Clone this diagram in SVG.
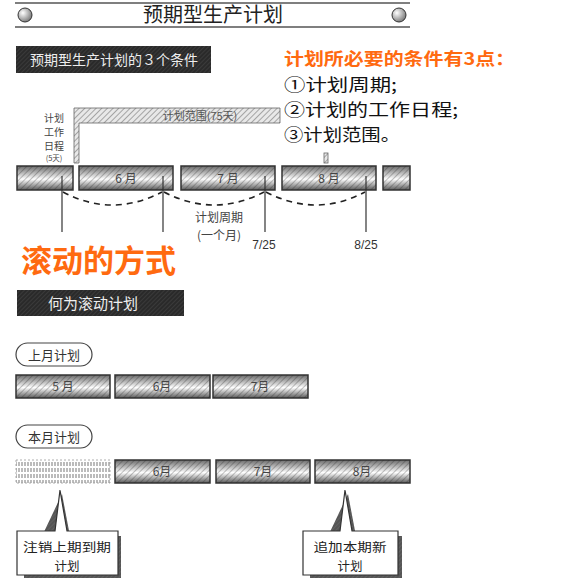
<svg xmlns="http://www.w3.org/2000/svg" width="562" height="578" viewBox="0 0 562 578">
<defs>
<linearGradient id="barg" x1="0" y1="0" x2="0" y2="1">
<stop offset="0" stop-color="#6a6a6a"/>
<stop offset="0.55" stop-color="#ffffff"/>
<stop offset="1" stop-color="#5a5a5a"/>
</linearGradient>
<radialGradient id="ball" cx="0.35" cy="0.35" r="0.7">
<stop offset="0" stop-color="#fff"/>
<stop offset="1" stop-color="#777"/>
</radialGradient>
<pattern id="hatch" width="4" height="4" patternUnits="userSpaceOnUse" patternTransform="rotate(45)">
<line x1="0" y1="0" x2="0" y2="4" stroke="#222" stroke-width="1.2" stroke-opacity="0.45"/>
</pattern>
<pattern id="hatchL" width="4" height="4" patternUnits="userSpaceOnUse" patternTransform="rotate(45)">
<rect width="4" height="4" fill="#e8e8e8"/>
<line x1="0" y1="0" x2="0" y2="4" stroke="#777" stroke-width="1.2"/>
</pattern>
<pattern id="dark" width="3" height="3" patternUnits="userSpaceOnUse" patternTransform="rotate(45)">
<rect width="3" height="3" fill="#2a2a2a"/>
<line x1="0" y1="0" x2="0" y2="3" stroke="#4a4a4a" stroke-width="1"/>
</pattern>
<pattern id="vdash" width="3" height="6" patternUnits="userSpaceOnUse">
<rect width="3" height="6" fill="#fff"/>
<line x1="1" y1="0" x2="1" y2="4" stroke="#777" stroke-width="1"/>
</pattern>
<style>
.t{font-family:"Noto Sans CJK SC","Liberation Sans",sans-serif;}
.bar{stroke:#333;stroke-width:1.5;}
.bt{font-family:"Noto Sans CJK SC","Liberation Sans",sans-serif;font-size:12px;fill:#444;text-anchor:middle;}
.vl{stroke:#333;stroke-width:1.2;}
.arc{fill:none;stroke:#222;stroke-width:1.6;stroke-dasharray:6,5;}
.or{fill:#ff6a10;font-weight:bold;}
.sl{fill:#444;text-anchor:middle;}
</style>
</defs>
<rect width="562" height="578" fill="#fff"/>

<g id="header">
<line x1="15" y1="3" x2="410" y2="3" stroke="#555" stroke-width="1.5"/>
<line x1="15" y1="27" x2="410" y2="27" stroke="#555" stroke-width="1.5"/>
<circle cx="25" cy="15" r="7" fill="url(#ball)" stroke="#333"/>
<circle cx="399" cy="15" r="7" fill="url(#ball)" stroke="#333"/>
<text class="t" x="213" y="22" font-size="20" text-anchor="middle" fill="#222">预期型生产计划</text>
</g>

<g id="label-conditions">
<rect x="16" y="46" width="195" height="27" fill="url(#dark)"/>
<text class="t" x="114" y="65" font-size="14" fill="#eee" text-anchor="middle">预期型生产计划的３个条件</text>
</g>

<g id="conditions-text">
<text class="t or" x="284" y="65" font-size="17" textLength="231" lengthAdjust="spacingAndGlyphs">计划所必要的条件有3点：</text>
<text class="t" x="284" y="91" font-size="17" fill="#111" textLength="113" lengthAdjust="spacingAndGlyphs">①计划周期;</text>
<text class="t" x="284" y="116" font-size="17" fill="#111" textLength="174" lengthAdjust="spacingAndGlyphs">②计划的工作日程;</text>
<text class="t" x="284" y="141" font-size="17" fill="#111" textLength="116" lengthAdjust="spacingAndGlyphs">③计划范围。</text>
</g>

<g id="schedule-label">
<text class="t sl" x="54" y="122" font-size="10">计划</text>
<text class="t sl" x="54" y="136" font-size="10">工作</text>
<text class="t sl" x="54" y="150" font-size="10">日程</text>
<text class="t sl" x="54" y="161" font-size="7.5">(5天)</text>
</g>

<g id="range-bar">
<path d="M74,108 H280 V123 H79 V163 H74 Z" fill="url(#hatchL)" stroke="#666" stroke-width="0.8"/>
<text class="t" x="200" y="120" font-size="11" fill="#555" text-anchor="middle">计划范围(75天)</text>
<rect x="324" y="153" width="4" height="10" fill="url(#hatchL)" stroke="#666" stroke-width="0.8"/>
</g>

<g id="timeline-top">
<rect class="bar" x="17" y="166" width="56" height="24" fill="url(#barg)"/>
<rect x="17" y="166" width="56" height="24" fill="url(#hatch)"/>
<rect class="bar" x="79" y="166" width="94" height="24" fill="url(#barg)"/>
<rect x="79" y="166" width="94" height="24" fill="url(#hatch)"/>
<text class="bt" x="126" y="183">6 月</text>
<rect class="bar" x="181" y="166" width="94" height="24" fill="url(#barg)"/>
<rect x="181" y="166" width="94" height="24" fill="url(#hatch)"/>
<text class="bt" x="228" y="183">7 月</text>
<rect class="bar" x="282" y="166" width="94" height="24" fill="url(#barg)"/>
<rect x="282" y="166" width="94" height="24" fill="url(#hatch)"/>
<text class="bt" x="329" y="183">8 月</text>
<rect class="bar" x="383" y="166" width="27" height="24" fill="url(#barg)"/>
<rect x="383" y="166" width="27" height="24" fill="url(#hatch)"/>
</g>

<g id="connectors">
<line class="vl" x1="62" y1="176" x2="62" y2="232"/>
<line class="vl" x1="163" y1="176" x2="163" y2="232"/>
<line class="vl" x1="265" y1="176" x2="265" y2="232"/>
<line class="vl" x1="366" y1="176" x2="366" y2="232"/>
<path class="arc" d="M63,192 Q112,218 162,192"/>
<path class="arc" d="M164,192 Q214,218 264,192"/>
<path class="arc" d="M266,192 Q316,218 365,192"/>
</g>

<g id="cycle-labels">
<text class="t" x="219" y="222" font-size="12" fill="#444" text-anchor="middle">计划周期</text>
<text class="t" x="219" y="240" font-size="12" fill="#444" text-anchor="middle">(一个月)</text>
<text x="264" y="249" font-family="Liberation Sans,sans-serif" font-size="12" fill="#333" text-anchor="middle">7/25</text>
<text x="366" y="249" font-family="Liberation Sans,sans-serif" font-size="12" fill="#333" text-anchor="middle">8/25</text>
</g>

<g id="rolling-title">
<text class="t or" x="21" y="272" font-size="31">滚动的方式</text>
</g>

<g id="label-rolling">
<rect x="17" y="290" width="167" height="26" fill="url(#dark)"/>
<text class="t" x="93" y="309" font-size="15" fill="#eee" text-anchor="middle">何为滚动计划</text>
</g>

<g id="last-month">
<rect x="16" y="343" width="76" height="23" rx="11.5" fill="#fff" stroke="#444" stroke-width="1.2"/>
<text class="t" x="54" y="359.5" font-size="13" fill="#333" text-anchor="middle">上月计划</text>
</g>
<g id="last-month-bars">
<rect class="bar" x="16" y="375" width="94" height="23" fill="url(#barg)"/>
<rect x="16" y="375" width="94" height="23" fill="url(#hatch)"/>
<text class="bt" x="63" y="391">5 月</text>
<rect class="bar" x="115" y="375" width="95" height="23" fill="url(#barg)"/>
<rect x="115" y="375" width="95" height="23" fill="url(#hatch)"/>
<text class="bt" x="162" y="391">6月</text>
<rect class="bar" x="213" y="375" width="95" height="23" fill="url(#barg)"/>
<rect x="213" y="375" width="95" height="23" fill="url(#hatch)"/>
<text class="bt" x="260" y="391">7月</text>
</g>

<g id="this-month">
<rect x="16" y="425" width="76" height="23" rx="11.5" fill="#fff" stroke="#444" stroke-width="1.2"/>
<text class="t" x="54" y="441.5" font-size="13" fill="#333" text-anchor="middle">本月计划</text>
</g>
<g id="this-month-bars">
<rect x="16" y="460" width="94" height="23" fill="url(#vdash)" stroke="#999" stroke-width="0.8" stroke-dasharray="2,2"/>
<rect class="bar" x="115" y="460" width="95" height="23" fill="url(#barg)"/>
<rect x="115" y="460" width="95" height="23" fill="url(#hatch)"/>
<text class="bt" x="162" y="476">6月</text>
<rect class="bar" x="216" y="460" width="94" height="23" fill="url(#barg)"/>
<rect x="216" y="460" width="94" height="23" fill="url(#hatch)"/>
<text class="bt" x="263" y="476">7月</text>
<rect class="bar" x="315" y="460" width="95" height="23" fill="url(#barg)"/>
<rect x="315" y="460" width="95" height="23" fill="url(#hatch)"/>
<text class="bt" x="362" y="476">8月</text>
</g>

<g id="callout-cancel">
<path d="M62,494 L70,536 L121,536 V578 H24 V574" fill="url(#dark)" opacity="0.8"/>
<path d="M17,531 H55 L60,490 L67,531 H118 V575 H17 Z" fill="#fff" stroke="#333" stroke-width="1.2"/>
<text class="t" x="67" y="552" font-size="12.5" fill="#222" text-anchor="middle" textLength="88" lengthAdjust="spacingAndGlyphs">注销上期到期</text>
<text class="t" x="67" y="570.5" font-size="12.5" fill="#222" text-anchor="middle">计划</text>
</g>

<g id="callout-add">
<path d="M348,494 L356,536 L402,536 V578 H310 V574" fill="url(#dark)" opacity="0.8"/>
<path d="M303,531 H340 L345,490 L352,531 H398 V575 H303 Z" fill="#fff" stroke="#333" stroke-width="1.2"/>
<text class="t" x="350" y="552" font-size="12.5" fill="#222" text-anchor="middle" textLength="73" lengthAdjust="spacingAndGlyphs">追加本期新</text>
<text class="t" x="350" y="570.5" font-size="12.5" fill="#222" text-anchor="middle">计划</text>
</g>
</svg>
